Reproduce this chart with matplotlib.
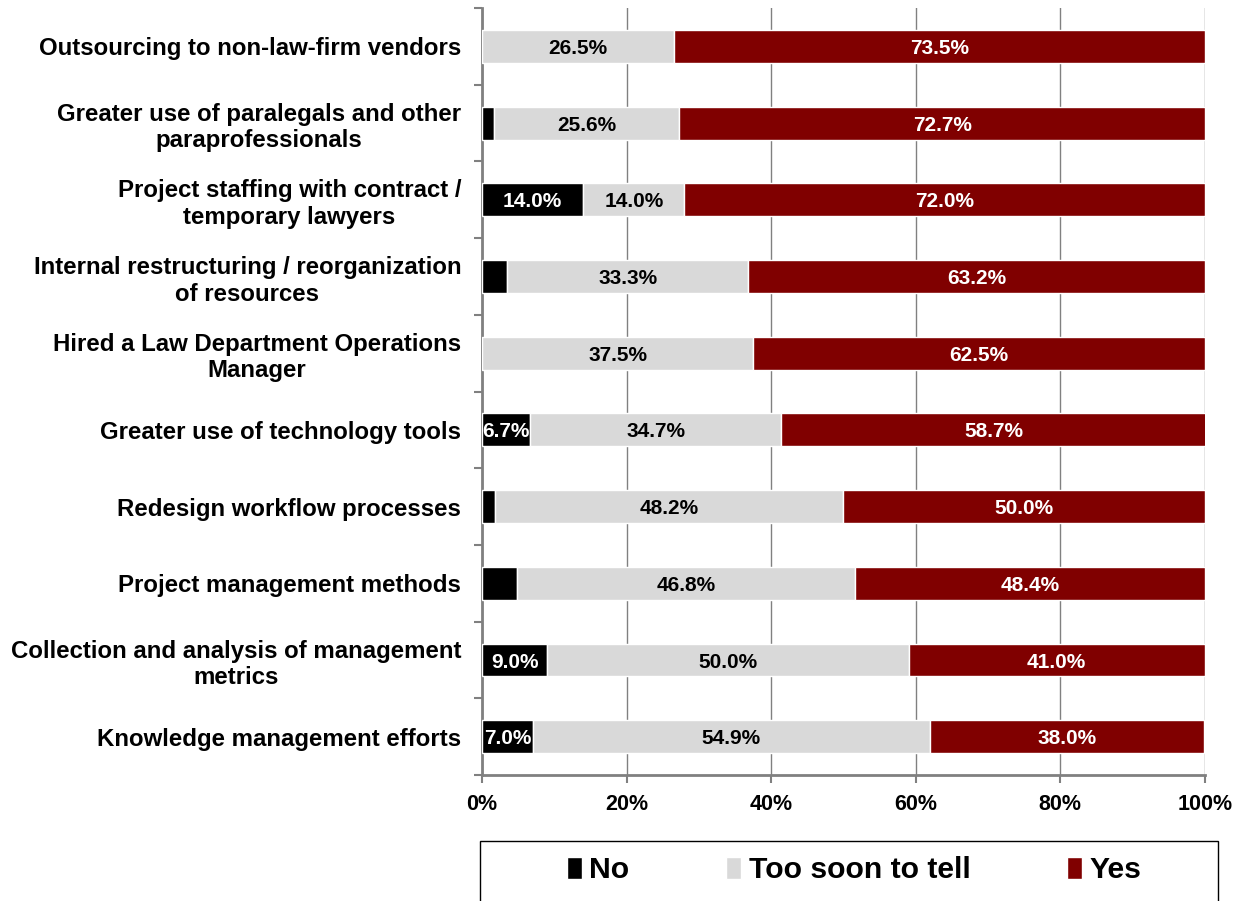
import numpy as np
import matplotlib.pyplot as plt
from matplotlib.patches import Rectangle

plt.rcParams['font.family'] = ['Liberation Sans', 'DejaVu Sans']
plt.rcParams['font.weight'] = 'bold'

categories = [
    'Outsourcing to non-law-firm vendors',
    'Greater use of paralegals and other\nparaprofessionals',
    'Project staffing with contract /\ntemporary lawyers',
    'Internal restructuring / reorganization\nof resources',
    'Hired a Law Department Operations\nManager',
    'Greater use of technology tools',
    'Redesign workflow processes',
    'Project management methods',
    'Collection and analysis of management\nmetrics',
    'Knowledge management efforts',
]
no_pct = [0.0, 1.7, 14.0, 3.5, 0.0, 6.7, 1.8, 4.8, 9.0, 7.0]
too_soon_pct = [26.5, 25.6, 14.0, 33.3, 37.5, 34.7, 48.2, 46.8, 50.0, 54.9]
yes_pct = [73.5, 72.7, 72.0, 63.2, 62.5, 58.7, 50.0, 48.4, 41.0, 38.0]

series = [
    ('No', no_pct, '#000000', 'white'),
    ('Too soon to tell', too_soon_pct, '#D9D9D9', 'black'),
    ('Yes', yes_pct, '#800000', 'white'),
]

fig = plt.figure(figsize=(12.44, 9.01), dpi=100)
ax = fig.add_axes([0.3875, 0.1398, 0.5811, 0.8512])

y = np.arange(len(categories))
left = np.zeros(len(categories))
for name, vals, color, txt_color in series:
    vals = np.array(vals)
    bars = ax.barh(y, vals, left=left, height=0.43, color=color,
                   edgecolor='white', linewidth=1, label=name, zorder=3)
    for b, v in zip(bars, vals):
        if v >= 6:
            ax.text(b.get_x() + b.get_width() / 2, b.get_y() + b.get_height() / 2,
                    f'{v:.1f}%', ha='center', va='center_baseline', color=txt_color,
                    fontsize=15, fontweight='bold', zorder=4)
    left += vals

ax.set_xlim(0, 100)
ax.set_ylim(len(categories) - 0.5, -0.5)
ax.set_xticks(np.arange(0, 101, 20))
ax.set_xticklabels([f'{t}%' for t in range(0, 101, 20)], fontsize=15.5, fontweight='bold')
ax.set_yticks(y)
ax.set_yticklabels(categories, fontsize=17.3, fontweight='bold', ha='right',
                   multialignment='center')
ax.set_yticks(np.arange(-0.5, len(categories), 1), minor=True)
ax.tick_params(axis='y', which='major', length=0, pad=15)
ax.tick_params(axis='y', which='minor', length=6, width=1.5, color='#808080')
ax.tick_params(axis='x', length=6, width=1.5, color='#808080', pad=8)

ax.grid(axis='x', color='#808080', linewidth=1, zorder=0)
for side in ['top', 'right']:
    ax.spines[side].set_visible(False)
for side in ['left', 'bottom']:
    ax.spines[side].set_color('#808080')
    ax.spines[side].set_linewidth(2)

# legend box below the plot
fig.patches.append(Rectangle((0.386, -0.05), 0.593, 0.117, transform=fig.transFigure,
                             fill=False, edgecolor='black', linewidth=1))
fig.legend(loc='center', bbox_to_anchor=(0.6865, 0.034), ncol=3, frameon=False,
           handlelength=0.5, handleheight=0.75, handletextpad=0.25,
           columnspacing=3.2, prop={'weight': 'bold', 'size': 21.7})

fig.savefig('out.png', dpi=100)
